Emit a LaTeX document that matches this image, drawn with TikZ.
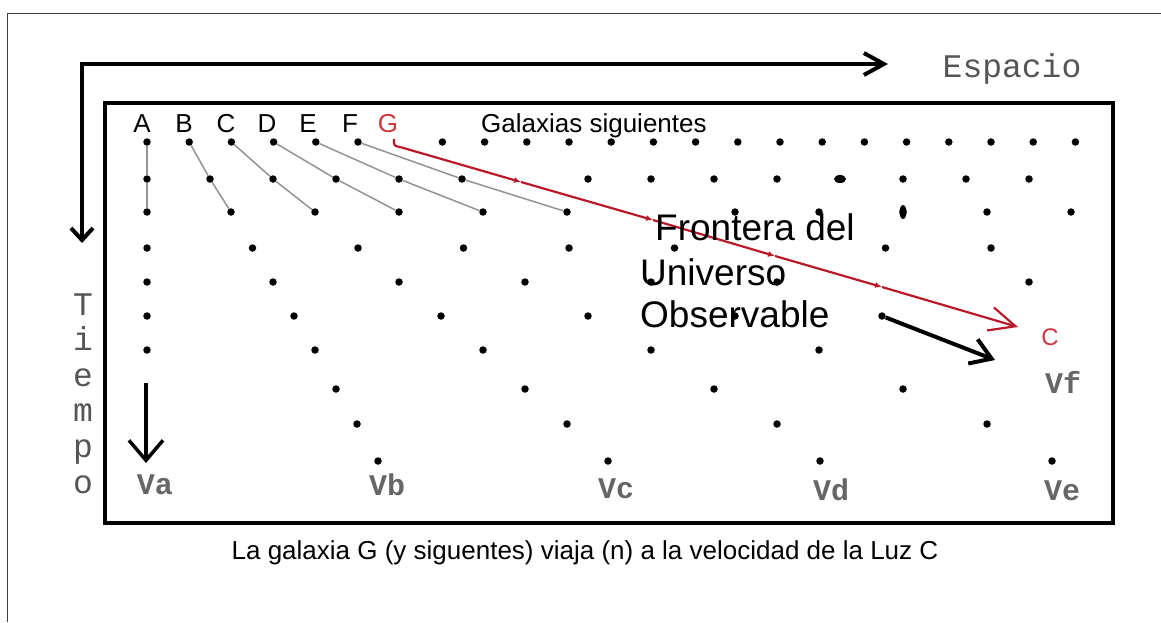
\documentclass[tikz,border=0pt]{standalone}
\usepackage{fontspec}
\setmainfont{Liberation Sans}
\setmonofont{Liberation Mono}
\usepackage{tikz}
\usetikzlibrary{arrows.meta,positioning}

\definecolor{rayored}{RGB}{185,25,40}
\definecolor{labred}{RGB}{205,55,60}
\definecolor{typegray}{RGB}{85,85,85}

\tikzset{
  galdot/.style={circle, fill=black, inner sep=0pt, minimum size=7.5pt},
  gal/.style={font=\fontsize{26}{30}\selectfont, inner sep=0pt},
  frontera/.style={font=\fontsize{37}{42}\selectfont, inner sep=0pt},
  monotxt/.style={font=\fontsize{33}{36}\selectfont\ttfamily, text=typegray, inner sep=0pt},
  vlabel/.style={font=\fontsize{30}{34}\selectfont\ttfamily\bfseries, text=typegray!90, inner sep=0pt},
  worldline/.style={draw=gray!85, line width=1.5pt},
  rayo/.style={draw=rayored, line width=2.2pt},
  eje/.style={line width=4pt}
}

\begin{document}
\begin{tikzpicture}[x=1pt,y=-1pt]
\useasboundingbox (0,0) rectangle (1161,622);

% marco
\draw[line width=1pt, black!75] (7,622) -- (7,13) -- (1161,13);

% ejes espacio / tiempo
\coordinate (tend) at (82,243);
\coordinate (eend) at (888,64);
\draw[eje, {Straight Barb[length=12pt,width=22pt]}-{Straight Barb[length=20pt,width=22pt]}] (tend) |- (eend);
\node[monotxt, anchor=base] (espacio) at (1012,77) {Espacio};
\foreach \l [count=\i from 0] in {T,i,e,m,p,o}
  \node[monotxt, anchor=base] (tiempo\i) at (83,315+35.6*\i) {\l};

% caja
\draw[eje] (105,103) rectangle (1113,523);

% galaxias
\foreach \r/\y/\s/\n in {0/142/42.2/22, 1/179/63/14, 2/212/84/11, 3/248/105.5/8, 4/282/126/7, 5/316/147/5, 6/350/168/4}
  \foreach \k in {0,...,\n}{
    \ifnum\k=6 \else
      \node[galdot] (d\r-\k) at (147+\s*\k,\y) {};
    \fi
  }
\foreach \r/\y/\s in {7/389/189, 8/424/210}
  \foreach \k in {1,...,4}
    \node[galdot] (d\r-\k) at (147+\s*\k,\y) {};
\foreach \x [count=\k] in {378,608,820,1052}
  \node[galdot] (d9-\k) at (\x,461) {};
\fill (d1-11) ellipse (6pt and 4pt);
\fill (d2-9) ellipse (3.5pt and 7pt);

% lineas de mundo A-F
\foreach \k in {0,...,5}
  \draw[worldline] (d0-\k) -- (d1-\k) -- (d2-\k);

% galaxia G a la velocidad de la luz
\coordinate (gs) at (394,139);
\coordinate (g0) at (400,147);
\coordinate (g1) at (521,182);
\coordinate (g2) at (653,220);
\coordinate (g3) at (775,256);
\coordinate (g4) at (882,287);
\coordinate (g5) at (1018,327);
\draw[rayo] (gs) .. controls (394,146) .. (g0);
\foreach \a/\b in {g0/g1, g1/g2, g2/g3, g3/g4}
  \draw[rayo, -{Latex[length=7pt,width=6pt]}] (\a) -- (\b);
\draw[rayo, -{Straight Barb[length=26pt,width=24pt]}] (g4) -- (g5);
\node[gal, font=\fontsize{24}{28}\selectfont, text=labred] (labC) at (1050,337) {C};

% flecha frontera
\coordinate (bend) at (995,360);
\draw[eje, -{Straight Barb[length=20pt,width=26pt]}] (d5-5) -- (bend);

% tiempo en A
\coordinate (atop) at (146,383);
\coordinate (abot) at (146,463);
\draw[line width=3.5pt, -{Straight Barb[length=20pt,width=34pt]}] (atop) -- (abot);

% etiquetas
\foreach \l/\x in {A/142,B/184,C/226,D/267,E/308,F/350}
  \node[gal, anchor=base] (lab\l) at (\x,132) {\l};
\node[gal, anchor=base, text=labred] (labG) at (388,132) {G};
\node[gal, anchor=base west] (sig) at (481,132) {Galaxias siguientes};

\node[frontera, anchor=base west] (fr1) at (655,240) {Frontera del};
\node[frontera, anchor=base west] (fr2) at (640,285) {Universo};
\node[frontera, anchor=base west] (fr3) at (640,327) {Observable};

\node[vlabel, anchor=base] (va) at (155,494) {Va};
\node[vlabel, anchor=base] (vb) at (387,495) {Vb};
\node[vlabel, anchor=base] (vc) at (616,498) {Vc};
\node[vlabel, anchor=base] (vd) at (831,500) {Vd};
\node[vlabel, anchor=base] (ve) at (1062,500) {Ve};
\node[vlabel, anchor=base] (vf) at (1063,393) {Vf};

\node[gal, anchor=base] (pie) at (585,559) {La galaxia G (y siguentes) viaja (n) a la velocidad de la Luz C};
\end{tikzpicture}
\end{document}
